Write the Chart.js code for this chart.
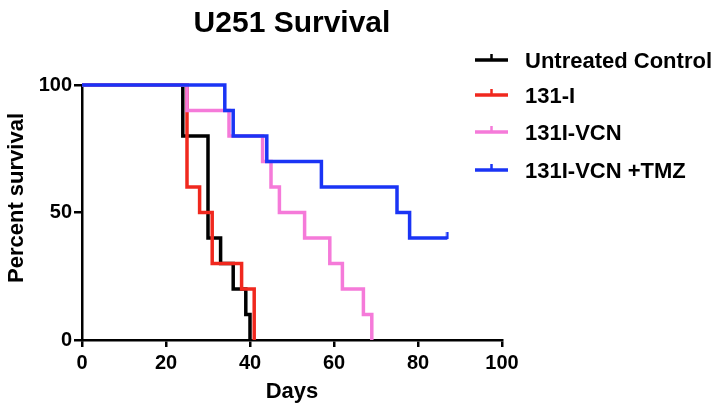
<!DOCTYPE html>
<html>
<head>
<meta charset="utf-8">
<script src="https://cdn.jsdelivr.net/npm/chart.js@4.4.1/dist/chart.umd.min.js"></script>
<style>
  html, body { margin: 0; padding: 0; background: #fff; }
  #wrap { width: 721px; height: 408px; position: relative; }
</style>
</head>
<body>
<div id="wrap"><canvas id="survivalChart"></canvas></div>
<script>
const chartTitle = 'U251 Survival';
const xLabel = 'Days';
const yLabel = 'Percent survival';
const xTicks = [0, 20, 40, 60, 80, 100];
const yTicks = [0, 50, 100];

const seriesNames = ['Untreated Control', '131-I', '131I-VCN', '131I-VCN +TMZ'];
const seriesColors = ['#000000', '#f0281e', '#f57ad9', '#1a34f5'];

// Kaplan-Meier steps: day of each drop and survival after it
const controlDays = [0, 24, 30, 33, 36, 39, 40];
const controlSurv = [100, 80, 40, 30, 20, 10, 0];
const iodineDays = [0, 25, 28, 31, 38, 41];
const iodineSurv = [100, 60, 50, 30, 20, 0];
const vcnDays = [0, 25, 35, 43, 45, 47, 53, 59, 62, 67, 69];
const vcnSurv = [100, 90, 80, 70, 60, 50, 40, 30, 20, 10, 0];
const tmzDays = [0, 34, 36, 44, 57, 75, 78, 87];
const tmzSurv = [100, 90, 80, 70, 60, 50, 40, 40];

const FONT = '"Liberation Sans", Arial, Helvetica, sans-serif';

function toPoints(days, surv) {
    return days.map((d, i) => ({ x: d, y: surv[i] }));
}

// censor mark: short vertical tick pointing up from the curve
function censorMark(color) {
    const c = document.createElement('canvas');
    c.width = 4;
    c.height = 12;
    const g = c.getContext('2d');
    g.fillStyle = color;
    g.fillRect(0.75, 0, 2.5, 7);
    return c;
}

const allDays = [controlDays, iodineDays, vcnDays, tmzDays];
const allSurv = [controlSurv, iodineSurv, vcnSurv, tmzSurv];
const drawOrder = [3, 2, 1, 0]; // blue on top

const datasets = seriesNames.map((name, i) => ({
    label: name,
    data: toPoints(allDays[i], allSurv[i]),
    borderColor: seriesColors[i],
    backgroundColor: seriesColors[i],
    borderWidth: 3.5,
    stepped: true,
    fill: false,
    clip: false,
    order: drawOrder[i],
    pointStyle: censorMark(seriesColors[i]),
    // censor tick on last point of the TMZ curve
    pointRadius: (ctx) => (i === 3 && ctx.dataIndex === allDays[i].length - 1) ? 4 : 0,
    pointHoverRadius: 0
}));

const extrasPlugin = {
    id: 'extras',
    afterDraw(chart) {
        const ctx = chart.ctx;
        const area = chart.chartArea;
        ctx.save();
        ctx.fillStyle = '#000';

        // title
        ctx.font = 'bold 30px ' + FONT;
        ctx.textAlign = 'center';
        ctx.textBaseline = 'alphabetic';
        ctx.fillText(chartTitle, (area.left + area.right) / 2, 32);

        // y axis label
        ctx.save();
        ctx.translate(23, 198);
        ctx.rotate(-Math.PI / 2);
        ctx.font = 'bold 22px ' + FONT;
        ctx.fillText(yLabel, 0, 0);
        ctx.restore();

        // legend
        const baseY = [60, 95, 132, 170];
        ctx.font = 'bold 22px ' + FONT;
        ctx.textAlign = 'left';
        seriesNames.forEach((name, i) => {
            const y = baseY[i];
            ctx.strokeStyle = seriesColors[i];
            ctx.lineWidth = 3.5;
            ctx.beginPath();
            ctx.moveTo(475, y);
            ctx.lineTo(508, y);
            ctx.stroke();
            ctx.lineWidth = 2.5;
            ctx.beginPath();
            ctx.moveTo(491.5, y);
            ctx.lineTo(491.5, y - 6);
            ctx.stroke();
            ctx.fillStyle = '#000';
            ctx.fillText(name, 525, y + 8);
        });
        ctx.restore();
    }
};

new Chart(document.getElementById('survivalChart'), {
    type: 'line',
    data: { datasets: datasets },
    options: {
        responsive: true,
        maintainAspectRatio: false,
        animation: false,
        layout: { padding: { top: 85, right: 219, bottom: 0, left: 0 } },
        plugins: {
            legend: { display: false },
            title: { display: false },
            tooltip: { enabled: false }
        },
        scales: {
            x: {
                type: 'linear',
                min: 0,
                max: 100,
                afterBuildTicks: (scale) => { scale.ticks = xTicks.map(v => ({ value: v })); },
                afterFit: (scale) => { scale.height = 68; },
                border: { display: true, color: '#000', width: 2.5 },
                grid: { drawOnChartArea: false, drawTicks: true, tickLength: 7, color: '#000', lineWidth: 2.5 },
                ticks: { color: '#000', font: { family: FONT, size: 20, weight: 'bold' }, padding: 4, maxRotation: 0 },
                title: {
                    display: true,
                    text: xLabel,
                    color: '#000',
                    font: { family: FONT, size: 22, weight: 'bold' },
                    padding: { top: 0, bottom: 3 }
                }
            },
            y: {
                type: 'linear',
                min: 0,
                max: 100,
                afterBuildTicks: (scale) => { scale.ticks = yTicks.map(v => ({ value: v })); },
                afterFit: (scale) => { scale.width = 82; },
                border: { display: true, color: '#000', width: 2.5 },
                grid: { drawOnChartArea: false, drawTicks: true, tickLength: 8, color: '#000', lineWidth: 2.5 },
                ticks: { color: '#000', font: { family: FONT, size: 20, weight: 'bold' }, padding: 2 }
            }
        }
    },
    plugins: [extrasPlugin]
});
</script>
</body>
</html>
